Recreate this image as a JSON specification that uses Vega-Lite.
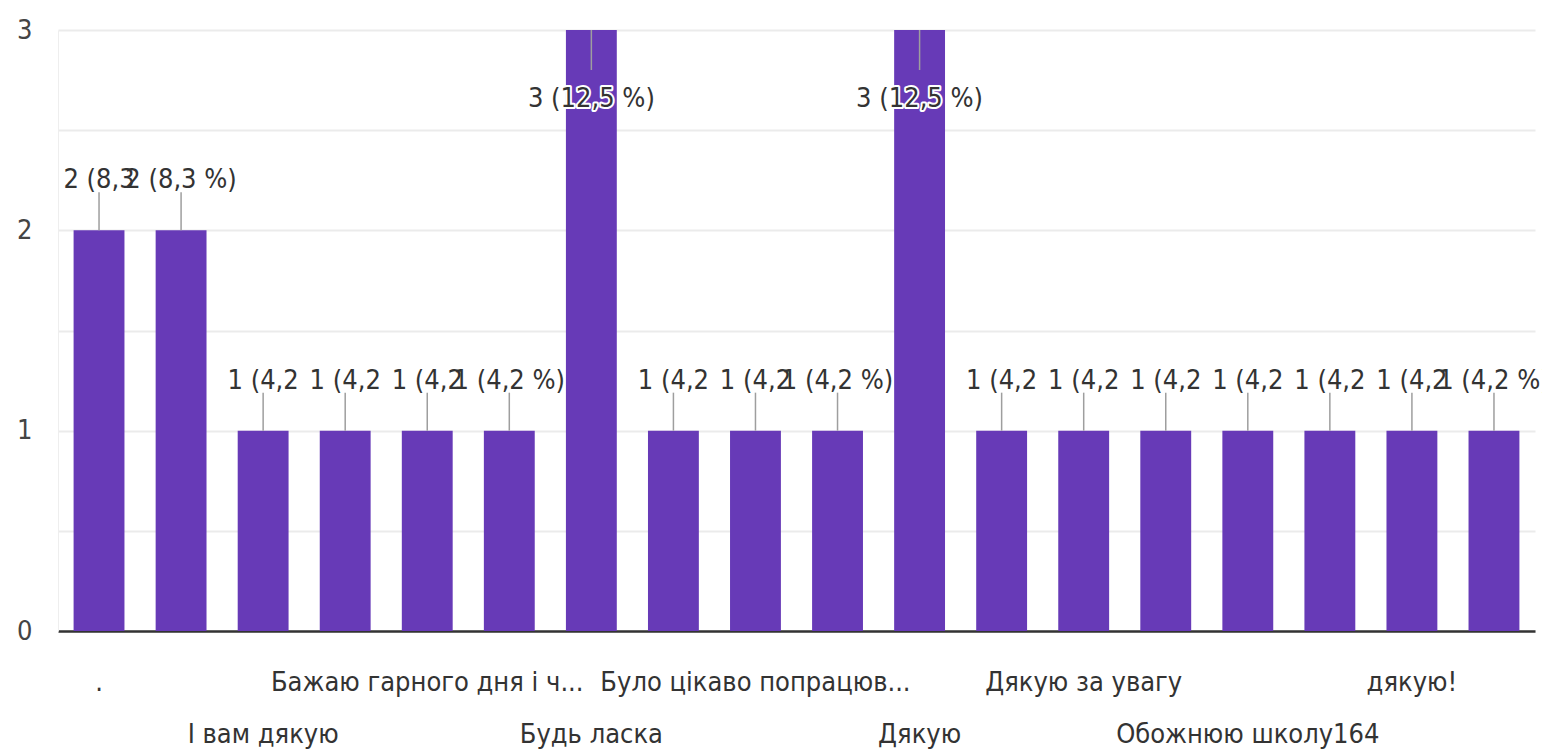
{
  "$schema": "https://vega.github.io/schema/vega-lite/v6.json",
  "width": 1477,
  "height": 601,
  "autosize": {"type": "none"},
  "padding": {"left": 58, "top": 30, "right": 7, "bottom": 120},
  "background": "white",
  "config": {
    "view": {"stroke": null},
    "font": "DejaVu Sans Condensed, Roboto, sans-serif",
    "text": {"font": "DejaVu Sans Condensed, Roboto, sans-serif", "fontSize": 27, "fill": "#333333", "baseline": "alphabetic"}
  },
  "data": {
    "values": [
      {"i": 1, "answer": ".", "count": 2, "label": "2 (8,3 %)"},
      {"i": 2, "answer": "", "count": 2, "label": "2 (8,3 %)"},
      {"i": 3, "answer": "І вам дякую", "count": 1, "label": "1 (4,2 %)"},
      {"i": 4, "answer": "", "count": 1, "label": "1 (4,2 %)"},
      {"i": 5, "answer": "Бажаю гарного дня і ч...", "count": 1, "label": "1 (4,2 %)"},
      {"i": 6, "answer": "", "count": 1, "label": "1 (4,2 %)"},
      {"i": 7, "answer": "Будь ласка", "count": 3, "label": "3 (12,5 %)"},
      {"i": 8, "answer": "", "count": 1, "label": "1 (4,2 %)"},
      {"i": 9, "answer": "Було цікаво попрацюв...", "count": 1, "label": "1 (4,2 %)"},
      {"i": 10, "answer": "", "count": 1, "label": "1 (4,2 %)"},
      {"i": 11, "answer": "Дякую", "count": 3, "label": "3 (12,5 %)"},
      {"i": 12, "answer": "", "count": 1, "label": "1 (4,2 %)"},
      {"i": 13, "answer": "Дякую за увагу", "count": 1, "label": "1 (4,2 %)"},
      {"i": 14, "answer": "", "count": 1, "label": "1 (4,2 %)"},
      {"i": 15, "answer": "Обожнюю школу164", "count": 1, "label": "1 (4,2 %)"},
      {"i": 16, "answer": "", "count": 1, "label": "1 (4,2 %)"},
      {"i": 17, "answer": "дякую!", "count": 1, "label": "1 (4,2 %)"},
      {"i": 18, "answer": "", "count": 1, "label": "1 (4,2 %)"}
    ]
  },
  "encoding": {
    "x": {
      "field": "i",
      "type": "ordinal",
      "sort": null,
      "scale": {"paddingInner": 0.38, "paddingOuter": 0.19},
      "axis": {"labels": false, "ticks": false, "title": null, "domainColor": "#333333", "domainWidth": 2.5, "grid": false}
    },
    "y": {
      "field": "count",
      "type": "quantitative",
      "scale": {"domain": [0, 3], "nice": false},
      "axis": {
        "title": null,
        "values": [0, 0.5, 1, 1.5, 2, 2.5, 3],
        "labelExpr": "datum.value % 1 == 0 ? format(datum.value, 'd') : ''",
        "labelFont": "DejaVu Sans Condensed, Roboto, sans-serif",
        "labelFontSize": 27,
        "labelColor": "#444444",
        "labelPadding": 26,
        "ticks": false,
        "domainColor": "#eeeeee",
        "gridColor": "#ebebeb",
        "gridWidth": 2
      }
    }
  },
  "layer": [
    {"mark": {"type": "bar", "color": "#673ab7"}},
    {
      "transform": [{"filter": "datum.count < 3"}],
      "mark": {"type": "rule", "color": "#9e9e9e", "strokeWidth": 1.5, "y2Offset": -38},
      "encoding": {"y2": {"field": "count"}}
    },
    {
      "transform": [{"filter": "datum.count == 3"}],
      "mark": {"type": "rule", "color": "#9e9e9e", "strokeWidth": 1.5, "y2Offset": 40},
      "encoding": {"y2": {"field": "count"}}
    },
    {
      "transform": [
        {"window": [{"op": "lead", "field": "count", "as": "next"}], "sort": [{"field": "i"}]},
        {"filter": "datum.count < 3 && datum.next == datum.count"}
      ],
      "mark": {"type": "text", "dy": -42, "limit": 78, "ellipsis": "\u200b"},
      "encoding": {"text": {"field": "label"}}
    },
    {
      "transform": [
        {"window": [{"op": "lead", "field": "count", "as": "next"}], "sort": [{"field": "i"}]},
        {"filter": "datum.count < 3 && datum.next != datum.count"}
      ],
      "mark": {"type": "text", "dy": -42},
      "encoding": {"text": {"field": "label"}}
    },
    {
      "transform": [{"filter": "datum.count == 3"}],
      "mark": {"type": "text", "dy": 77, "stroke": "white", "strokeWidth": 4, "strokeJoin": "round", "fill": "white"},
      "encoding": {"text": {"field": "label"}}
    },
    {
      "transform": [{"filter": "datum.count == 3"}],
      "mark": {"type": "text", "dy": 77},
      "encoding": {"text": {"field": "label"}}
    },
    {
      "transform": [{"filter": "datum.i % 4 == 1"}],
      "mark": {"type": "text", "dy": 60},
      "encoding": {"y": {"datum": 0}, "text": {"field": "answer"}}
    },
    {
      "transform": [{"filter": "datum.i % 4 == 3"}],
      "mark": {"type": "text", "dy": 112},
      "encoding": {"y": {"datum": 0}, "text": {"field": "answer"}}
    }
  ]
}
